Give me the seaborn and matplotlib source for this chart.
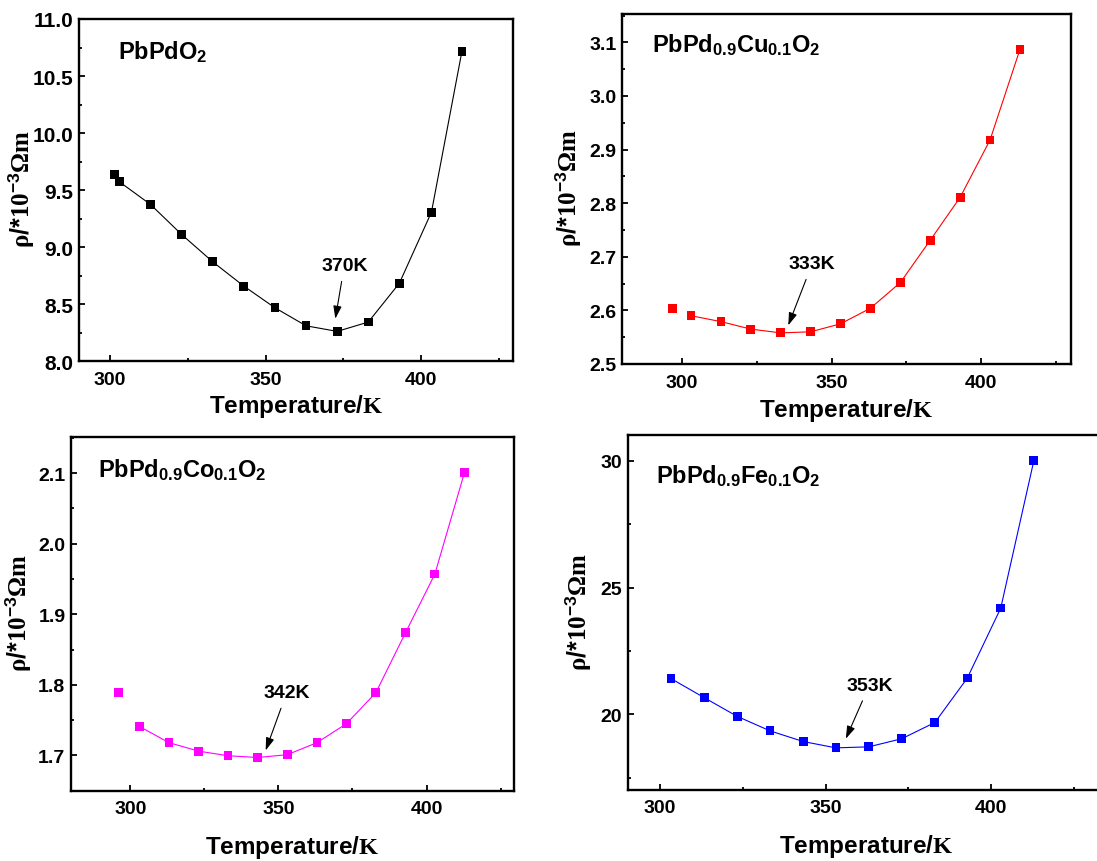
import numpy as np
import pandas as pd
import matplotlib
matplotlib.use("Agg")
import matplotlib.pyplot as plt
from matplotlib.ticker import MultipleLocator, FormatStrFormatter
import seaborn as sns

# Resistivity vs temperature for PbPdO2 and 10% Cu / Co / Fe substituted samples
temp_pd = [301.4, 303, 313, 323, 333, 343, 353, 363, 373, 383, 393, 403.3, 413.1]
rho_pd = [9.636, 9.572, 9.373, 9.110, 8.870, 8.657, 8.467, 8.309, 8.260, 8.342, 8.683, 9.306, 10.717]

temp_cu = [296.9, 303, 313, 323, 333, 343, 353, 363, 373, 383, 393, 403, 413]
rho_cu = [2.604, 2.590, 2.579, 2.565, 2.558, 2.560, 2.575, 2.604, 2.652, 2.731, 2.811, 2.918, 3.087]

temp_co = [296.1, 303.1, 313.1, 323.1, 333, 343, 353, 363, 373, 382.9, 392.9, 402.8, 412.8]
rho_co = [1.789, 1.741, 1.718, 1.706, 1.6995, 1.697, 1.701, 1.718, 1.745, 1.789, 1.874, 1.957, 2.101]

temp_fe = [303.3, 313.3, 323.3, 333.2, 343.2, 353.1, 363, 373, 383, 392.8, 402.9, 412.9]
rho_fe = [21.41, 20.66, 19.92, 19.35, 18.93, 18.68, 18.72, 19.04, 19.68, 21.43, 24.19, 30.0]

sns.set_style("ticks")
plt.rcParams["font.family"] = ["Liberation Sans", "DejaVu Sans"]
plt.rcParams["font.weight"] = "bold"
for key in ["text.color", "axes.labelcolor", "xtick.color", "ytick.color", "axes.edgecolor"]:
    plt.rcParams[key] = "black"
plt.rcParams["mathtext.fontset"] = "custom"
plt.rcParams["mathtext.rm"] = "Liberation Serif"
plt.rcParams["mathtext.it"] = "Liberation Serif:italic"
plt.rcParams["mathtext.bf"] = "Liberation Sans:bold"
plt.rcParams["mathtext.sf"] = "Liberation Sans"

XLABEL = r"Temperature/$\mathrm{K}$"
YLABEL = r"$\mathrm{\rho}\mathbf{/}{\mathbf{*}}\mathrm{10}^{\mathbf{-3}}\mathrm{\Omega m}$"

panels = [
    dict(t=temp_pd, r=rho_pd, color="#000000", connect_from=1,
         name=r"PbPdO$_{\mathbf{2}}$", name_pos=(0.09, 0.904),
         rect=[0.0720, 0.5800, 0.3956, 0.3968], xlim=(290, 429.5), ylim=(8.0, 11.0),
         ymaj=0.5, ymin=0.25, yfmt="%.1f", ysize=15,
         ann="370K", ann_xy=(372.4, 8.371), ann_text=(375.3, 8.838),
         ylab_x=-0.1, xpad=3),
    dict(t=temp_cu, r=rho_cu, color="#ff0000", connect_from=1,
         name=r"PbPd$_{\mathbf{0.9}}$Cu$_{\mathbf{0.1}}$O$_{\mathbf{2}}$", name_pos=(0.066, 0.914),
         rect=[0.5673, 0.5766, 0.4088, 0.4060], xlim=(280, 430), ylim=(2.5, 3.153),
         ymaj=0.1, ymin=0.05, yfmt="%.1f", ysize=14,
         ann="333K", ann_xy=(335.5, 2.572), ann_text=(343.5, 2.687),
         ylab_x=-0.088, xpad=4),
    dict(t=temp_co, r=rho_co, color="#ff00ff", connect_from=1,
         name=r"PbPd$_{\mathbf{0.9}}$Co$_{\mathbf{0.1}}$O$_{\mathbf{2}}$", name_pos=(0.062, 0.91),
         rect=[0.0647, 0.0816, 0.4041, 0.4100], xlim=(280, 429.6), ylim=(1.65, 2.151),
         ymaj=0.1, ymin=0.05, yfmt="%.1f", ysize=14,
         ann="342K", ann_xy=(345.7, 1.707), ann_text=(352.8, 1.789),
         ylab_x=-0.086, xpad=11),
    dict(t=temp_fe, r=rho_fe, color="#0000ff", connect_from=0,
         name=r"PbPd$_{\mathbf{0.9}}$Fe$_{\mathbf{0.1}}$O$_{\mathbf{2}}$", name_pos=(0.059, 0.887),
         rect=[0.5722, 0.0827, 0.4351, 0.4111], xlim=(290.2, 434.4), ylim=(17.03, 31.0),
         ymaj=5, ymin=2.5, yfmt="%d", ysize=14,
         ann="353K", ann_xy=(356.1, 19.04), ann_text=(363.2, 21.15),
         ylab_x=-0.073, xpad=11),
]

fig = plt.figure(figsize=(10.97, 8.62), dpi=100)

for p in panels:
    ax = fig.add_axes(p["rect"])
    df = pd.DataFrame({"T": p["t"], "rho": p["r"]})
    line_df = df.iloc[p["connect_from"]:]
    sns.lineplot(data=line_df, x="T", y="rho", ax=ax, color=p["color"],
                 linewidth=0.8, sort=False, estimator=None)
    sns.scatterplot(data=df, x="T", y="rho", ax=ax, color=p["color"],
                    marker="s", s=40, edgecolor="none", linewidth=0, zorder=3)

    ax.set_xlim(*p["xlim"])
    ax.set_ylim(*p["ylim"])
    ax.xaxis.set_major_locator(MultipleLocator(50))
    ax.xaxis.set_minor_locator(MultipleLocator(25))
    ax.yaxis.set_major_locator(MultipleLocator(p["ymaj"]))
    ax.yaxis.set_minor_locator(MultipleLocator(p["ymin"]))
    ax.yaxis.set_major_formatter(FormatStrFormatter(p["yfmt"]))

    for sp in ax.spines.values():
        sp.set_linewidth(1.7)
        sp.set_color("black")
        sp.set_visible(True)
    ax.tick_params(which="both", direction="in", top=False, right=False,
                   width=1.3, colors="black")
    ax.tick_params(which="major", length=4.5)
    ax.tick_params(axis="x", which="major", labelsize=14, pad=7)
    ax.tick_params(axis="y", which="major", labelsize=p["ysize"], pad=4)
    ax.tick_params(which="minor", length=2.5)
    for lbl in ax.get_xticklabels() + ax.get_yticklabels():
        lbl.set_fontweight("bold")

    ax.set_xlabel(XLABEL, fontsize=17.5, fontweight="bold", labelpad=p["xpad"])
    ax.set_ylabel(YLABEL, fontsize=18, fontweight="normal")
    ax.yaxis.set_label_coords(p["ylab_x"], 0.505)

    ax.text(p["name_pos"][0], p["name_pos"][1], p["name"], transform=ax.transAxes,
            fontsize=17, fontweight="bold", ha="left", va="center")

    ax.annotate(p["ann"], xy=p["ann_xy"], xytext=p["ann_text"],
                ha="center", va="center", fontsize=14, fontweight="bold",
                arrowprops=dict(arrowstyle="-|>,head_length=0.55,head_width=0.18",
                                color="black", lw=0.8, shrinkA=3, shrinkB=0))

fig.savefig("out.png", dpi=100)
